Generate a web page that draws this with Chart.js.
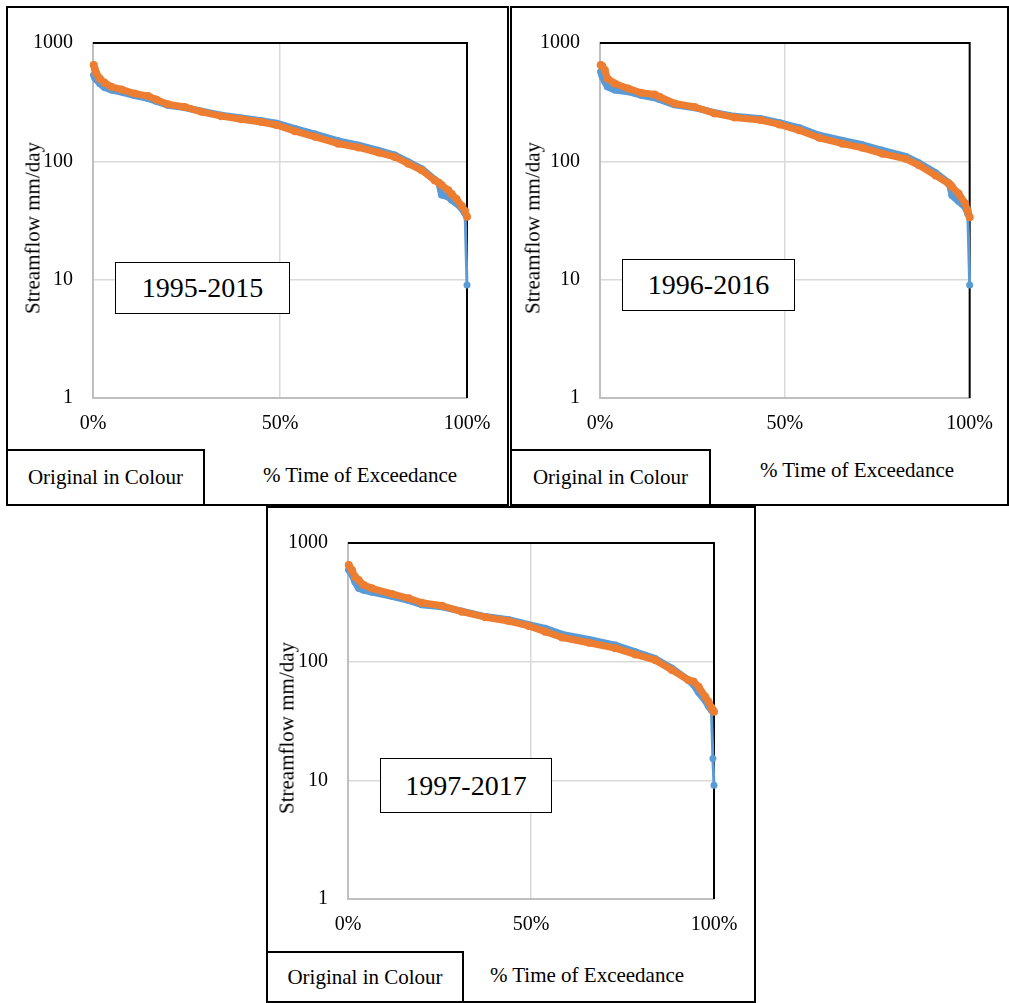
<!DOCTYPE html>
<html>
<head>
<meta charset="utf-8">
<script src="https://cdn.jsdelivr.net/npm/chart.js@4.4.1/dist/chart.umd.min.js"></script>
<style>
  body { margin: 0; background: #fff; font-family: "Liberation Serif", "Times New Roman", serif; }
  .abs { position: absolute; box-sizing: border-box; }
  .frame { border: 2px solid #000; }
  .tag { border: 2px solid #000; background: #fff; display: flex; align-items: center; justify-content: center; font-size: 21px; }
  .years { border: 1px solid #000; background: #fff; display: flex; align-items: center; justify-content: center; font-size: 28px; }
  .xtitle { position: absolute; white-space: nowrap; font-size: 21px; transform: translate(-50%, -50%); }
  .ytitle { position: absolute; white-space: nowrap; font-size: 21px; transform: translate(-50%, -50%) rotate(-90deg); }
  canvas { position: absolute; }
</style>
</head>
<body>

<div class="abs frame" style="left:6px;top:6px;width:503px;height:500px"></div>
<div class="abs frame" style="left:510px;top:6px;width:499px;height:500px"></div>
<div class="abs frame" style="left:266px;top:506px;width:490px;height:497px"></div>

<canvas id="chart1" width="500" height="440" style="left:7px;top:7px"></canvas>
<canvas id="chart2" width="496" height="440" style="left:511px;top:7px"></canvas>
<canvas id="chart3" width="486" height="440" style="left:268px;top:508px"></canvas>

<div class="ytitle" style="left:33px;top:228px">Streamflow mm/day</div>
<div class="ytitle" style="left:533px;top:228px">Streamflow mm/day</div>
<div class="ytitle" style="left:287px;top:728px">Streamflow mm/day</div>

<div class="abs years" style="left:115px;top:262px;width:175px;height:52px">1995-2015</div>
<div class="abs years" style="left:622px;top:259px;width:173px;height:52px">1996-2016</div>
<div class="abs years" style="left:380px;top:758px;width:172px;height:55px">1997-2017</div>

<div class="abs tag" style="left:6px;top:449px;width:199px;height:57px">Original in Colour</div>
<div class="abs tag" style="left:510px;top:449px;width:201px;height:57px">Original in Colour</div>
<div class="abs tag" style="left:266px;top:951px;width:198px;height:52px">Original in Colour</div>

<div class="xtitle" style="left:360px;top:475px">% Time of Exceedance</div>
<div class="xtitle" style="left:857px;top:470px">% Time of Exceedance</div>
<div class="xtitle" style="left:587px;top:975px">% Time of Exceedance</div>

<script>
// y axis ticks (log scale)
const yTicks = [1, 10, 100, 1000];

// 1995-2015
const pct1 = [0.002, 0.005, 0.009, 0.018, 0.031, 0.049, 0.076, 0.111, 0.147, 0.169, 0.20, 0.245, 0.29, 0.343, 0.397, 0.45, 0.49, 0.54, 0.594, 0.656, 0.71, 0.763, 0.807, 0.843, 0.879, 0.914, 0.925, 0.932, 0.95, 0.959, 0.972, 0.986, 0.995, 1.0];
const blue1 = [535, 505, 490, 455, 420, 400, 385, 360, 340, 322, 298, 285, 265, 245, 232, 220, 210, 189, 170, 149, 137, 124, 113, 99, 86.5, 70, 66, 52, 50, 47, 44, 40, 36, 9];
const orange1 = [652, 600, 553, 502, 461, 426, 405, 374, 356, 333, 304, 288, 262, 241, 227, 215, 203, 180, 161, 141, 131, 118.5, 109, 95.5, 84, 69, 66, 63, 57, 53, 48, 42, 38, 34];

// 1996-2016
const pct2 = [0.002, 0.006, 0.013, 0.02, 0.04, 0.076, 0.111, 0.148, 0.161, 0.202, 0.256, 0.31, 0.364, 0.435, 0.485, 0.539, 0.593, 0.656, 0.71, 0.764, 0.827, 0.863, 0.908, 0.943, 0.948, 0.952, 0.97, 0.988, 0.995, 1.0];
const blue2 = [571, 520, 470, 426, 400, 388, 362, 345, 333, 300, 284, 258, 240, 229, 212, 192, 166, 150, 138, 124, 110, 97, 80, 66, 60, 51.5, 46, 41, 36, 9];
const orange2 = [652, 640, 590, 502, 455, 413, 380, 367, 351, 308, 288, 254, 235, 223, 205, 183, 158, 141, 130, 116, 105, 92.5, 76, 65, 63, 61, 53.5, 44, 38, 33.7];

// 1997-2017
const pct3 = [0.002, 0.011, 0.019, 0.029, 0.043, 0.065, 0.12, 0.166, 0.202, 0.257, 0.311, 0.375, 0.439, 0.494, 0.539, 0.585, 0.658, 0.73, 0.785, 0.84, 0.885, 0.93, 0.944, 0.958, 0.976, 0.985, 0.993, 0.997, 1.0];
const blue3 = [592, 540, 470, 415, 400, 385, 355, 328, 302, 290, 266, 240, 226, 205, 191, 170, 154, 138, 121, 106, 88, 70, 64, 55, 47, 42, 39, 15.3, 9.1];
const orange3 = [653, 590, 520, 488, 443, 415, 372, 342, 314, 296, 264, 237, 220, 200, 179, 160, 144.5, 130, 115, 103, 85, 70, 68, 61.6, 50.7, 46, 41, 39, 37.9];

const BLUE = '#5B9BD5';
const ORANGE = '#ED7D31';
const GRID = '#D9D9D9';
const AXIS = '#BFBFBF';
const FONT = { family: '"Liberation Serif", "Times New Roman", serif', size: 20 };

/**
 * Black top and right edge of the plot area
 */
const plotBorder = {
  id: 'plotBorder',
  beforeDatasetsDraw(chart) {
    const { ctx, chartArea: a } = chart;
    ctx.save();
    ctx.strokeStyle = '#000';
    ctx.lineWidth = 2;
    ctx.beginPath();
    ctx.moveTo(a.left, a.top);
    ctx.lineTo(a.right, a.top);
    ctx.lineTo(a.right, a.bottom);
    ctx.stroke();
    ctx.restore();
  }
};

const toPoints = (pct, vals) => pct.map((p, i) => ({ x: p, y: vals[i] }));

const drawPanel = (id, pct, blue, orange, yWidth, padTop, padRight) => {
  new Chart(document.getElementById(id), {
    type: 'line',
    data: {
      datasets: [
        {
          data: toPoints(pct, blue),
          borderColor: BLUE,
          backgroundColor: BLUE,
          borderWidth: 7,
          borderJoinStyle: 'round',
          borderCapStyle: 'round',
          pointRadius: 3.5,
          pointBorderWidth: 0,
          tension: 0,
          clip: false,
          order: 2,
          // the drop to the last low values is a thin line
          segment: { borderWidth: ctx => ctx.p1.parsed.y < 30 ? 3 : undefined }
        },
        {
          data: toPoints(pct, orange),
          borderColor: ORANGE,
          backgroundColor: ORANGE,
          borderWidth: 7,
          borderJoinStyle: 'round',
          borderCapStyle: 'round',
          pointRadius: 4,
          pointBorderWidth: 0,
          tension: 0,
          clip: false,
          order: 1
        }
      ]
    },
    options: {
      responsive: false,
      animation: false,
      devicePixelRatio: 1,
      layout: { padding: { top: padTop, right: padRight, left: 0, bottom: 0 } },
      plugins: { legend: { display: false }, tooltip: { enabled: false } },
      scales: {
        x: {
          type: 'linear',
          min: 0,
          max: 1,
          afterFit: s => { s.height = 49; },
          ticks: { stepSize: 0.5, padding: 14, color: '#000', font: FONT, maxRotation: 0,
                   callback: v => Math.round(v * 100) + '%' },
          grid: { drawTicks: false, lineWidth: 1.5, color: c => c.tick && c.tick.value === 0.5 ? GRID : 'rgba(0,0,0,0)' },
          border: { color: AXIS, width: 2 }
        },
        y: {
          type: 'logarithmic',
          min: 1,
          max: 1000,
          afterFit: s => { s.width = yWidth; },
          afterBuildTicks: s => { s.ticks = yTicks.map(v => ({ value: v })); },
          ticks: { padding: 20, color: '#000', font: FONT, callback: v => String(v) },
          grid: { drawTicks: false, lineWidth: 1.5, color: c => c.tick && (c.tick.value === 10 || c.tick.value === 100) ? GRID : 'rgba(0,0,0,0)' },
          border: { color: AXIS, width: 2 }
        }
      }
    },
    plugins: [plotBorder]
  });
};

drawPanel('chart1', pct1, blue1, orange1, 86, 36, 40);
drawPanel('chart2', pct2, blue2, orange2, 89, 36, 36);
drawPanel('chart3', pct3, blue3, orange3, 80, 35, 40);
</script>
</body>
</html>
